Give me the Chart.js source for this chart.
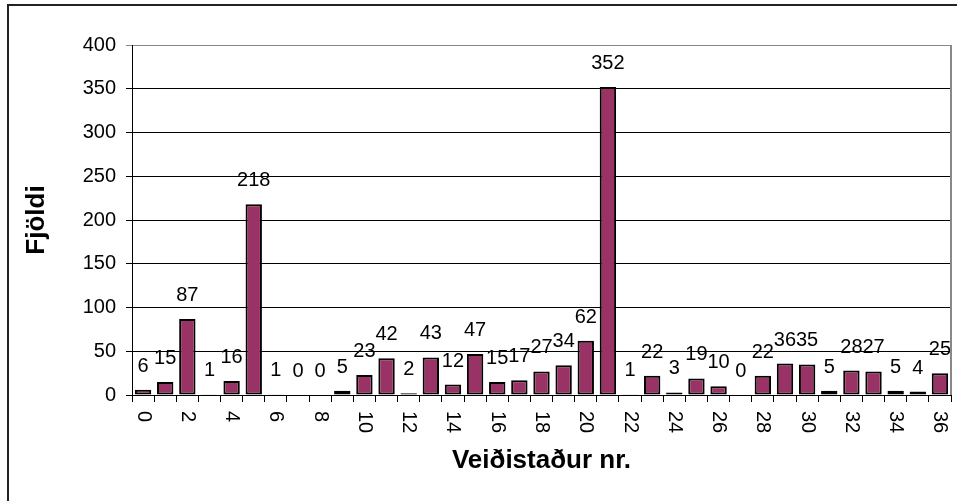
<!DOCTYPE html>
<html>
<head>
<meta charset="utf-8">
<script src="https://cdn.jsdelivr.net/npm/chart.js@4/dist/chart.umd.min.js"></script>
<style>
  html, body { margin: 0; padding: 0; background: #fff; overflow: hidden; }
  #wrap { position: relative; width: 957px; height: 501px; }
  #frame { position: absolute; left: 7px; top: 4px; width: 1000px; height: 600px; border: 2px solid #222; }
  canvas { position: absolute; left: 0; top: 0; }
</style>
</head>
<body>
<div id="wrap">
  <div id="frame"></div>
  <canvas id="myChart" width="957" height="501"></canvas>
</div>
<script>
// Veiðistaður nr. 0..36
const stadir = ["0","1","2","3","4","5","6","7","8","9","10","11","12","13","14","15","16","17","18",
                "19","20","21","22","23","24","25","26","27","28","29","30","31","32","33","34","35","36"];
const fjoldi = [6, 15, 87, 1, 16, 218, 1, 0, 0, 5, 23, 42, 2, 43, 12, 47, 15, 17, 27,
                34, 62, 352, 1, 22, 3, 19, 10, 0, 22, 36, 35, 5, 28, 27, 5, 4, 25];
const yTicks = [0, 50, 100, 150, 200, 250, 300, 350, 400];

const FONT = '"Liberation Sans", Arial, sans-serif';

const extras = {
    id: "extras",
    afterDatasetsDraw(chart) {
        const ctx = chart.ctx;
        const meta = chart.getDatasetMeta(0);
        const xs = chart.scales.x;
        const area = chart.chartArea;

        ctx.save();
        // gildi ofan á súlum
        ctx.font = "20px " + FONT;
        ctx.fillStyle = "#000";
        ctx.textAlign = "center";
        ctx.textBaseline = "alphabetic";
        meta.data.forEach(function (bar, i) {
            ctx.fillText(String(fjoldi[i]), bar.x, bar.y - 18);
        });

        // x-ás merki, snúin réttsælis
        ctx.textAlign = "left";
        ctx.textBaseline = "middle";
        stadir.forEach(function (s, i) {
            if (i % 2) return;
            ctx.save();
            ctx.translate(xs.getPixelForValue(i), xs.top + 16);
            ctx.rotate(Math.PI / 2);
            ctx.fillText(s, 0, 0);
            ctx.restore();
        });

        // rammi teiknisvæðis hægra megin
        ctx.strokeStyle = "#888";
        ctx.lineWidth = 2;
        ctx.beginPath();
        ctx.moveTo(area.right, area.top);
        ctx.lineTo(area.right, area.bottom);
        ctx.stroke();
        ctx.restore();
    }
};

new Chart(document.getElementById("myChart").getContext("2d"), {
    type: "bar",
    data: {
        labels: stadir,
        datasets: [{
            data: fjoldi,
            backgroundColor: "#993366",
            borderColor: "#000",
            borderWidth: 2,
            borderSkipped: false,
            barPercentage: 0.74,
            categoryPercentage: 1.0
        }]
    },
    options: {
        responsive: false,
        animation: false,
        devicePixelRatio: 1,
        layout: { padding: { left: 0, top: 45, right: 6, bottom: 0 } },
        plugins: {
            legend: { display: false },
            tooltip: { enabled: false }
        },
        scales: {
            x: {
                grid: {
                    drawOnChartArea: false,
                    color: "#000",
                    tickLength: 7
                },
                border: { color: "#000" },
                ticks: { display: false, autoSkip: false },
                title: {
                    display: true,
                    text: "Veiðistaður nr.",
                    color: "#000",
                    font: { family: FONT, size: 26, weight: "bold" },
                    padding: { top: 0, bottom: 25 }
                },
                afterFit: function (scale) { scale.height = 106; }
            },
            y: {
                min: 0,
                max: 400,
                afterBuildTicks: function (scale) {
                    scale.ticks = yTicks.map(function (v) { return { value: v }; });
                },
                grid: {
                    color: function (c) { return c.tick && c.tick.value === 400 ? "#888" : "#000"; },
                    tickLength: 6
                },
                border: { color: "#000" },
                ticks: {
                    color: "#000",
                    padding: 10,
                    font: { family: FONT, size: 20 }
                },
                title: {
                    display: true,
                    text: "Fjöldi",
                    color: "#000",
                    font: { family: FONT, size: 26, weight: "bold" },
                    padding: { top: 21, bottom: 0 }
                },
                afterFit: function (scale) { scale.width = 132; }
            }
        }
    },
    plugins: [extras]
});
</script>
</body>
</html>
